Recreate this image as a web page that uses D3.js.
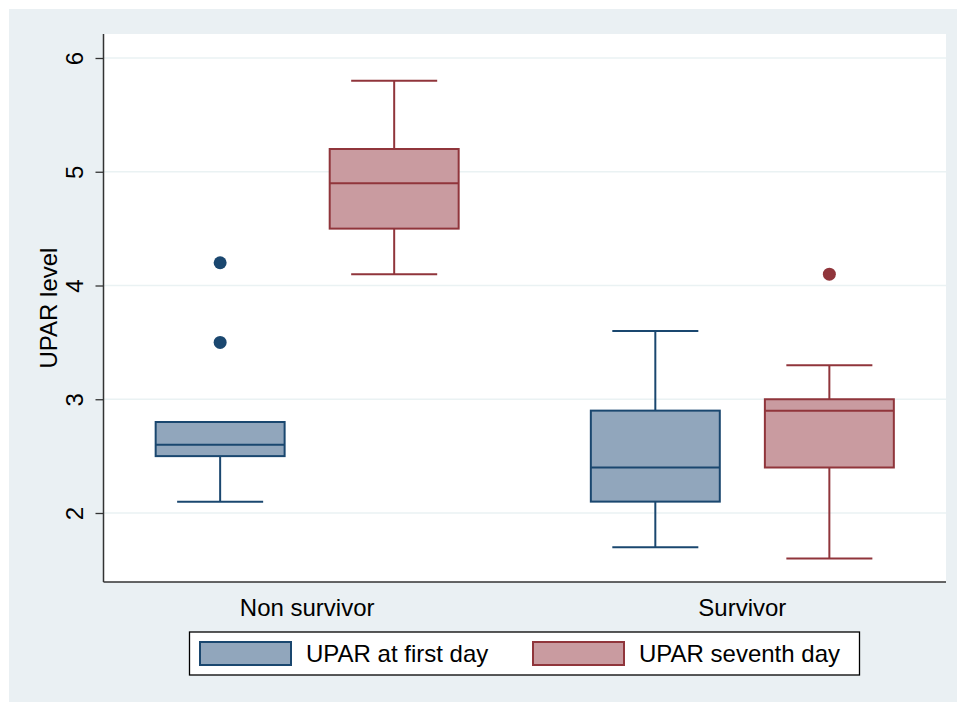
<!DOCTYPE html>
<html>
<head>
<meta charset="utf-8">
<script src="https://cdn.jsdelivr.net/npm/d3@7"></script>
<style>
  html, body { margin: 0; padding: 0; background: #ffffff; }
  svg { display: block; font-family: "Liberation Sans", Arial, Helvetica, sans-serif; }
</style>
</head>
<body>
<svg id="chart" width="957" height="702"></svg>
<script>
// ---- data ----
const groups = ["Non survivor", "Survivor"];
const series = ["UPAR at first day", "UPAR seventh day"];
// per group: [first day, seventh day]
const lowWhisker  = [[2.1, 4.1], [1.7, 1.6]];
const q1          = [[2.5, 4.5], [2.1, 2.4]];
const median      = [[2.6, 4.9], [2.4, 2.9]];
const q3          = [[2.8, 5.2], [2.9, 3.0]];
const highWhisker = [[2.8, 5.8], [3.6, 3.3]];
const outliers    = [[[3.5, 4.2], []], [[], [4.1]]];
const yTicks = [2, 3, 4, 5, 6];
const yLabel = "UPAR level";

// ---- styles ----
const fills   = ["#91a6bc", "#c99ba0"];
const strokes = ["#1a476f", "#90353b"];
const gridColor = "#eaf2f3";
const FS = 24;

const svg = d3.select("#chart");
const W = 957, H = 702;
const plot = { left: 103.5, right: 946, top: 34, bottom: 582 };

// background
svg.append("rect").attr("x", 9).attr("y", 9).attr("width", W - 9).attr("height", H - 9).attr("fill", "#eaf0f3");
svg.append("rect").attr("x", plot.left).attr("y", plot.top)
  .attr("width", plot.right - plot.left).attr("height", plot.bottom - plot.top).attr("fill", "#ffffff");

// scales
const y = d3.scaleLinear().domain([2, 6]).range([513, 58]);
const x = d3.scalePoint().domain(groups).range([plot.left, plot.right]).padding(0.468);
const xs = d3.scaleBand().domain(series).range([-151.5, 151.5]).paddingInner(0.259).paddingOuter(0);
const bw = xs.bandwidth();

// gridlines
svg.append("g").selectAll("line").data(yTicks).join("line")
  .attr("x1", plot.left).attr("x2", plot.right)
  .attr("y1", d => y(d)).attr("y2", d => y(d))
  .attr("stroke", gridColor).attr("stroke-width", 1.6);

// y axis
const yAxis = svg.append("g").attr("transform", `translate(${plot.left},0)`)
  .call(d3.axisLeft(y).tickValues(yTicks).tickSize(8).tickPadding(14).tickFormat(d3.format("d")));
yAxis.select(".domain").remove();
yAxis.selectAll(".tick line").attr("stroke", "#333").attr("stroke-width", 1.3);
yAxis.selectAll(".tick text")
  .attr("font-size", FS).attr("fill", "#000")
  .attr("text-anchor", "middle")
  .attr("transform", "rotate(-90)")
  .attr("x", 0).attr("y", -29).attr("dy", "0.35em");

// axis lines
svg.append("line").attr("x1", plot.left).attr("x2", plot.left).attr("y1", plot.top).attr("y2", plot.bottom)
  .attr("stroke", "#333").attr("stroke-width", 1.5);
svg.append("line").attr("x1", plot.left).attr("x2", plot.right).attr("y1", plot.bottom).attr("y2", plot.bottom)
  .attr("stroke", "#333").attr("stroke-width", 1.5);

// y label
svg.append("text").attr("transform", `translate(49,${(plot.top + plot.bottom) / 2}) rotate(-90)`)
  .attr("text-anchor", "middle").attr("dy", "0.35em").attr("font-size", FS).attr("fill", "#000").text(yLabel);

// x labels
svg.append("g").selectAll("text").data(groups).join("text")
  .attr("x", d => x(d)).attr("y", 616).attr("text-anchor", "middle")
  .attr("font-size", FS).attr("fill", "#000").text(d => d);

// boxes
const boxes = [];
groups.forEach((g, gi) => series.forEach((s, si) => boxes.push({
  g, s, si,
  lo: lowWhisker[gi][si], q1: q1[gi][si], med: median[gi][si], q3: q3[gi][si], hi: highWhisker[gi][si],
  out: outliers[gi][si]
})));

const bg = svg.append("g").selectAll("g").data(boxes).join("g")
  .attr("transform", d => `translate(${x(d.g) + xs(d.s) + bw / 2},0)`);

const capW = bw * 0.667;
// whiskers
bg.append("line").attr("x1", 0).attr("x2", 0).attr("y1", d => y(d.q1)).attr("y2", d => y(d.lo))
  .attr("stroke", d => strokes[d.si]).attr("stroke-width", 2);
bg.append("line").attr("x1", 0).attr("x2", 0).attr("y1", d => y(d.q3)).attr("y2", d => y(d.hi))
  .attr("stroke", d => strokes[d.si]).attr("stroke-width", 2);
bg.append("line").attr("x1", -capW / 2).attr("x2", capW / 2).attr("y1", d => y(d.lo)).attr("y2", d => y(d.lo))
  .attr("stroke", d => strokes[d.si]).attr("stroke-width", 2);
bg.filter(d => d.hi > d.q3).append("line").attr("x1", -capW / 2).attr("x2", capW / 2).attr("y1", d => y(d.hi)).attr("y2", d => y(d.hi))
  .attr("stroke", d => strokes[d.si]).attr("stroke-width", 2);
// box
bg.append("rect").attr("x", -bw / 2).attr("width", bw)
  .attr("y", d => y(d.q3)).attr("height", d => y(d.q1) - y(d.q3))
  .attr("fill", d => fills[d.si]).attr("stroke", d => strokes[d.si]).attr("stroke-width", 2);
// median
bg.append("line").attr("x1", -bw / 2).attr("x2", bw / 2).attr("y1", d => y(d.med)).attr("y2", d => y(d.med))
  .attr("stroke", d => strokes[d.si]).attr("stroke-width", 2);
// outliers
bg.selectAll("circle").data(d => d.out.map(v => ({ v, si: d.si }))).join("circle")
  .attr("cx", 0).attr("cy", d => y(d.v)).attr("r", 6.5).attr("fill", d => strokes[d.si]);

// legend
const leg = svg.append("g");
leg.append("rect").attr("x", 189.5).attr("y", 632).attr("width", 670).attr("height", 43)
  .attr("fill", "#fff").attr("stroke", "#000").attr("stroke-width", 1.3);
const legX = [200, 533];
const li = leg.selectAll("g").data(series).join("g").attr("transform", (d, i) => `translate(${legX[i]},0)`);
li.append("rect").attr("x", 0).attr("y", 642).attr("width", 91).attr("height", 23)
  .attr("fill", (d, i) => fills[i]).attr("stroke", (d, i) => strokes[i]).attr("stroke-width", 2);
li.append("text").attr("x", 106).attr("y", 662).attr("font-size", FS).attr("fill", "#000").text(d => d);
</script>
</body>
</html>
